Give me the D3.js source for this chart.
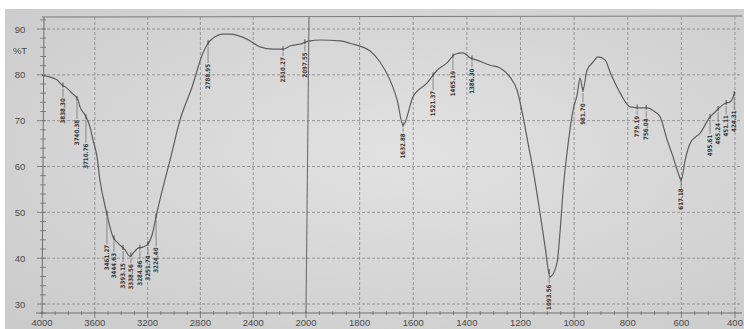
<!DOCTYPE html>
<html>
<head>
<meta charset="utf-8">
<script src="https://cdn.jsdelivr.net/npm/d3@7"></script>
<style>
  body { margin: 0; background: #fff; }
  svg { display: block; }
</style>
</head>
<body>
<div id="chart"></div>
<script>
// spectrum: wavenumber (cm-1) and %T
var wavenumbers = [4000, 3962, 3886, 3848, 3811, 3773, 3727, 3712, 3674, 3636, 3614, 3583,
  3561, 3515, 3462, 3424, 3371, 3333, 3303, 3273, 3235, 3197, 3167, 3129, 3083, 3030,
  2955, 2864, 2780, 2742, 2689, 2636, 2576, 2447, 2348, 2250, 2174, 2121, 2045, 1985,
  1948, 1873, 1836, 1761, 1724, 1687, 1660, 1638, 1601, 1549, 1511, 1474, 1444, 1414,
  1388, 1362, 1313, 1276, 1239, 1213, 1190, 1172, 1153, 1127, 1108, 1090, 1064, 1052,
  1041, 1022, 1004, 989, 978, 967, 952, 929, 911, 884, 866, 828, 791, 754, 728, 698,
  679, 653, 631, 612, 601, 586, 567, 530, 493, 474, 455, 436, 418, 400];
var transmittance = [79.9, 79.7, 78.9, 77.8, 77.1, 76.0, 74.5, 73.0, 71.2, 68.6, 65.8, 62.1,
  57.0, 50.5, 44.6, 43.3, 41.8, 40.4, 41.3, 42.2, 42.4, 43.1, 45.0, 50.0, 55.5, 61.4,
  70.1, 77.3, 84.8, 86.9, 88.3, 88.9, 88.9, 87.8, 86.1, 85.6, 85.6, 86.3, 86.7, 87.4,
  87.6, 87.4, 86.9, 85.2, 82.8, 78.9, 74.5, 69.0, 75.2, 78.2, 81.0, 82.6, 84.5, 84.8,
  83.7, 83.2, 82.1, 81.5, 79.5, 76.7, 70.8, 65.1, 59.2, 49.8, 42.4, 35.9, 38.9, 46.1,
  54.9, 65.1, 72.3, 75.6, 79.3, 76.7, 81.0, 82.8, 83.9, 83.2, 80.6, 76.0, 73.0, 72.8,
  72.8, 71.9, 70.8, 65.8, 62.1, 58.6, 57.0, 61.4, 65.1, 67.3, 70.8, 71.9, 73.0, 73.8,
  74.1, 76.2];

// peak labels as printed, and where they sit on the curve
var peakText = ["3838.30", "3740.38", "3710.76", "3461.27", "3444.63", "3393.15", "3338.56",
  "3284.86", "3251.74", "3224.40", "2788.95", "2310.27", "2097.55", "1632.88", "1521.37",
  "1465.19", "1386.30", "1093.56", "981.70", "779.19", "756.04", "617.18", "495.61",
  "465.24", "451.11", "424.31"];
var peakAt = [3841, 3735, 3667, 3508, 3455, 3386, 3326, 3258, 3197, 3136, 2742, 2174, 2008,
  1638, 1526, 1452, 1381, 1093, 967, 765, 731, 601, 493, 463, 433, 403];

var xTicks = [4000, 3600, 3200, 2800, 2400, 2000, 1800, 1600, 1400, 1200, 1000, 800, 600, 400];
var yTicks = [30, 40, 50, 60, 70, 80, 90];

var W = 744, H = 329;

var svg = d3.select("#chart").append("svg")
  .attr("width", W)
  .attr("height", H);

// paper
var defs = svg.append("defs");
var grad = defs.append("radialGradient").attr("id", "paper")
  .attr("cx", "55%").attr("cy", "45%").attr("r", "75%");
grad.append("stop").attr("offset", "0%").attr("stop-color", "#e2e2e2");
grad.append("stop").attr("offset", "100%").attr("stop-color", "#cbcbcb");
svg.append("rect").attr("x", 5).attr("y", 9).attr("width", W - 5).attr("height", H - 9)
  .attr("fill", "url(#paper)");

// scale changes at 2000 cm-1
var x = d3.scaleLinear().domain([4000, 2000, 400]).range([42, 306, 735]);
var y = d3.scaleLinear().domain([30, 90]).range([304, 29]);
var yTop = 17, yBot = 313;

var grid = svg.append("g");
grid.selectAll("line.h").data(yTicks).enter().append("line")
  .attr("x1", 42).attr("x2", 740)
  .attr("y1", d => y(d)).attr("y2", d => y(d))
  .attr("stroke", "#959595").attr("stroke-width", 1)
  .attr("stroke-dasharray", "3,2");
grid.selectAll("line.v").data(xTicks.filter(d => d != 4000 && d != 2000)).enter().append("line")
  .attr("x1", d => x(d)).attr("x2", d => x(d))
  .attr("y1", yTop).attr("y2", yBot)
  .attr("stroke", "#959595").attr("stroke-width", 1)
  .attr("stroke-dasharray", "3,2");
// solid line at the scale break
grid.append("line")
  .attr("x1", x(2000)).attr("x2", x(2000) + 3)
  .attr("y1", yBot).attr("y2", yTop)
  .attr("stroke", "#6e6e6e").attr("stroke-width", 1.1);

// frame
svg.append("line").attr("x1", 42).attr("x2", 742).attr("y1", yTop).attr("y2", yTop - 1)
  .attr("stroke", "#7a7a7a").attr("stroke-width", 1);
svg.append("line").attr("x1", 44).attr("x2", 42).attr("y1", yTop).attr("y2", yBot)
  .attr("stroke", "#6e6e6e").attr("stroke-width", 1);
svg.append("line").attr("x1", 36).attr("x2", 742).attr("y1", yBot).attr("y2", yBot)
  .attr("stroke", "#6e6e6e").attr("stroke-width", 1);

// y ticks
var yMinor = d3.range(28, 93, 2);
svg.selectAll("line.ym").data(yMinor).enter().append("line")
  .attr("x1", d => d % 10 == 0 ? 37 : 40).attr("x2", 46)
  .attr("y1", d => y(d)).attr("y2", d => y(d))
  .attr("stroke", "#6e6e6e").attr("stroke-width", 0.8);
svg.selectAll("text.yl").data(yTicks).enter().append("text")
  .attr("x", 20).attr("y", d => y(d) + 3.5)
  .attr("text-anchor", "middle")
  .attr("font-family", "Liberation Sans, Arial, sans-serif")
  .attr("font-size", 9.5).attr("fill", "#4a4a4a")
  .text(d => d);
svg.append("text").attr("x", 20).attr("y", 53.5)
  .attr("text-anchor", "middle")
  .attr("font-family", "Liberation Sans, Arial, sans-serif")
  .attr("font-size", 9.5).attr("fill", "#4a4a4a")
  .text("%T");

// x ticks
var xMinor = d3.range(4000, 2000, -100).concat(d3.range(2000, 399, -50));
svg.selectAll("line.xm").data(xMinor).enter().append("line")
  .attr("x1", d => x(d)).attr("x2", d => x(d))
  .attr("y1", yBot - 2).attr("y2", d => xTicks.indexOf(d) >= 0 ? yBot + 5 : yBot + 2)
  .attr("stroke", "#6e6e6e").attr("stroke-width", 0.8);
svg.selectAll("text.xl").data(xTicks).enter().append("text")
  .attr("x", d => x(d)).attr("y", 326)
  .attr("text-anchor", "middle")
  .attr("font-family", "Liberation Sans, Arial, sans-serif")
  .attr("font-size", 9.5).attr("fill", "#4a4a4a")
  .text(d => d);

// spectrum
var pts = wavenumbers.map((w, i) => [w, transmittance[i]]);
var line = d3.line()
  .x(d => x(d[0]))
  .y(d => y(d[1]))
  .curve(d3.curveMonotoneX);
svg.append("path").datum(pts)
  .attr("d", line)
  .attr("fill", "none")
  .attr("stroke", "#5e5e5e")
  .attr("stroke-width", 1.2);

// %T on the curve at a wavenumber
function tAt(w) {
  for (var i = 0; i < wavenumbers.length - 1; i++) {
    var a = wavenumbers[i], b = wavenumbers[i + 1];
    if (w <= a && w >= b) {
      var f = (a - w) / (a - b);
      return transmittance[i] + f * (transmittance[i + 1] - transmittance[i]);
    }
  }
  return transmittance[transmittance.length - 1];
}
// lowest point of the curve near a pixel column
function lowNear(px) {
  var lo = 0;
  for (var k = -6; k <= 6; k++) {
    var w = x.invert(px + k);
    lo = Math.max(lo, y(tAt(w)));
  }
  return lo;
}

var labels = svg.append("g");
peakAt.forEach(function(w, i) {
  var px = x(w), py = y(tAt(w));
  var top = lowNear(px) + 7;
  labels.append("line")
    .attr("x1", px).attr("x2", px)
    .attr("y1", py - 3).attr("y2", py + 2)
    .attr("stroke", "#444").attr("stroke-width", 0.9);
  labels.append("line")
    .attr("x1", px).attr("x2", px)
    .attr("y1", py + 3).attr("y2", top)
    .attr("stroke", "#666").attr("stroke-width", 0.7);
  labels.append("text")
    .attr("transform", "translate(" + (px + 2.1) + "," + (top + 1) + ") rotate(-90)")
    .attr("text-anchor", "end")
    .attr("font-family", "DejaVu Sans Condensed, DejaVu Sans, sans-serif")
    .attr("font-size", 6.2).attr("font-weight", "bold")
    .attr("fill", "#3a3a3a")
    .text(peakText[i]);
});
</script>
</body>
</html>
